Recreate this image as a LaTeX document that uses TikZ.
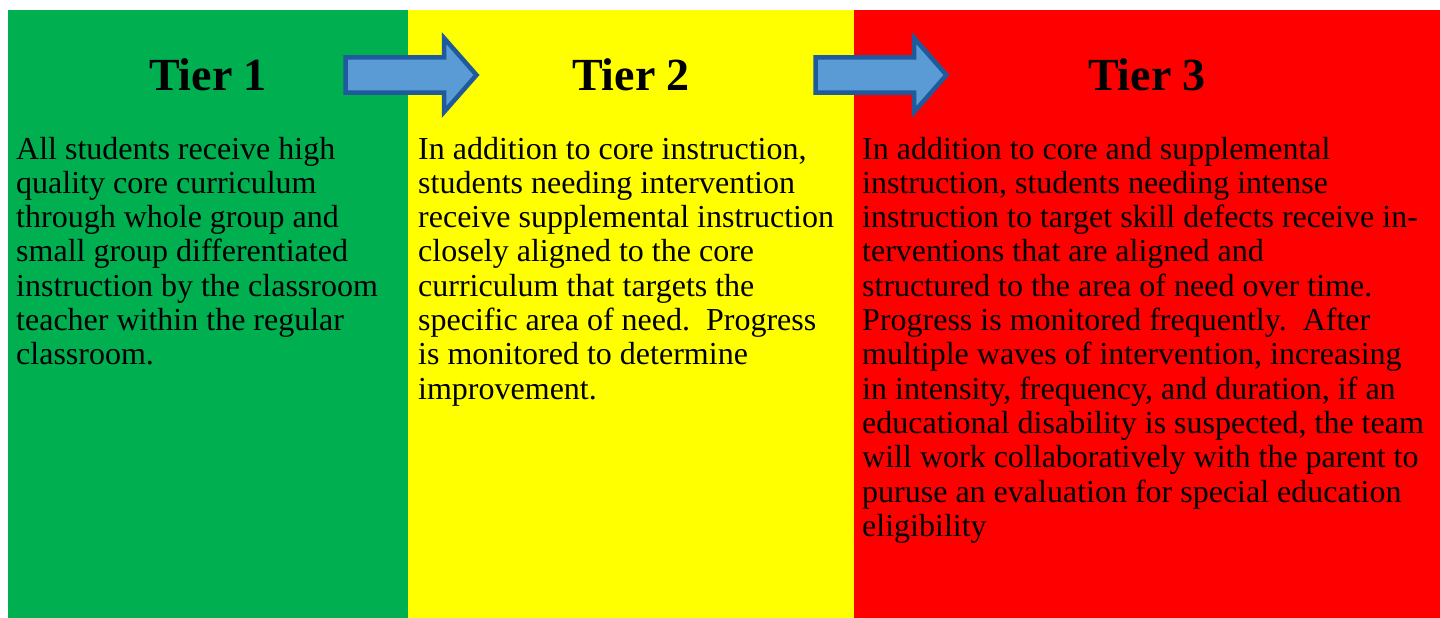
\documentclass[tikz,border=0pt]{standalone}
\usepackage{fontspec}
\setmainfont{Liberation Serif}
\usetikzlibrary{positioning}

\definecolor{tiergreen}{HTML}{00B050}
\definecolor{tieryellow}{HTML}{FFFF00}
\definecolor{tierred}{HTML}{FF0000}
\definecolor{arrowfill}{HTML}{5B9BD5}
\definecolor{arrowline}{HTML}{1F5A9C}

\begin{document}
\begin{tikzpicture}[
        x=1pt, y=-1pt,
        panel/.style={draw=none, anchor=north west, inner sep=0pt, outer sep=0pt, minimum height=608pt},
        tiertitle/.style={anchor=base, inner sep=0pt, font=\fontsize{46}{50}\selectfont\bfseries},
        tiertext/.style={anchor=base west, inner sep=0pt, align=left, font=\fontsize{32}{34.3}\selectfont},
        blockarrow/.style={draw=arrowline, fill=arrowfill, line width=4.5pt, line join=miter}
    ]

    \useasboundingbox (0,0) rectangle (1440,618);

    % Panels
    \node[panel, fill=tiergreen, minimum width=400pt] (p1) at (8,10) {};
    \node[panel, fill=tieryellow, minimum width=446pt, right=0pt of p1.north east, anchor=north west] (p2) {};
    \node[panel, fill=tierred, minimum width=586pt, right=0pt of p2.north east, anchor=north west] (p3) {};

    % Titles
    \node[tiertitle] (t1) at ([yshift=-80pt]p1.north) {Tier 1};
    \node[tiertitle] (t2) at ([yshift=-80pt]p2.north) {Tier 2};
    \node[tiertitle] (t3) at ([yshift=-80pt]p3.north) {Tier 3};

    % Descriptions (anchored on the last line's baseline)
    \node[tiertext] (d1) at ([shift={(8,354.8)}]p1.north west) {All students receive high\\ quality core curriculum\\ through whole group and\\ small group differentiated\\ instruction by the classroom\\ teacher within the regular\\ classroom.};
    \node[tiertext] (d2) at ([shift={(10,389.1)}]p2.north west) {In addition to core instruction,\\ students needing intervention\\ receive supplemental instruction\\ closely aligned to the core\\ curriculum that targets the\\ specific area of need.\ \ Progress\\ is monitored to determine\\ improvement.};
    \node[tiertext] (d3) at ([shift={(8,526.3)}]p3.north west) {In addition to core and supplemental\\ instruction, students needing intense\\ instruction to target skill defects receive in-\\ terventions that are aligned and\\ structured to the area of need over time.\\ Progress is monitored frequently.\ \ After\\ multiple waves of intervention, increasing\\ in intensity, frequency, and duration, if an\\ educational disability is suspected, the team\\ will work collaboratively with the parent to\\ puruse an evaluation for special education\\ eligibility};

    % Arrows between tiers
    \foreach \ax in {345.5, 815.5} {
        \draw[blockarrow] (\ax,57.5) -- ++(98.5,0) -- ++(0,-19.5) -- ++(32.5,37)
            -- ++(-32.5,37) -- ++(0,-19.5) -- (\ax,92.5) -- cycle;
    }

\end{tikzpicture}
\end{document}
